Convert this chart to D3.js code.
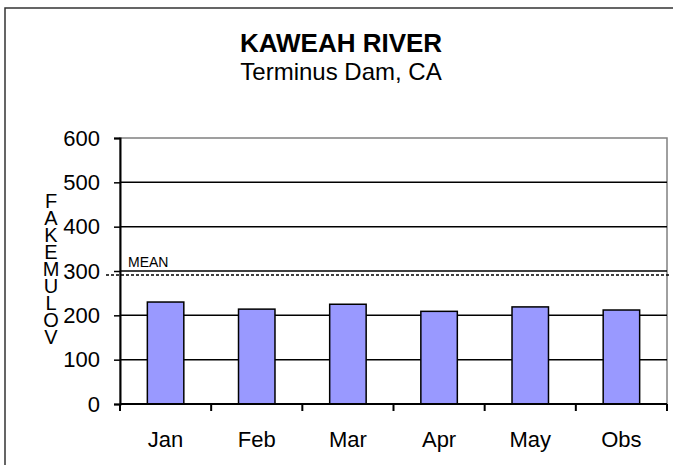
<!DOCTYPE html>
<html>
<head>
<meta charset="utf-8">
<script src="https://cdn.jsdelivr.net/npm/d3@7"></script>
<style>
  html, body { margin: 0; background: #fff; overflow: hidden; }
  svg { display: block; }
  svg text { font-family: "Liberation Sans", Arial, sans-serif; fill: #000; }
</style>
</head>
<body>
<div id="chart"></div>
<script>
// values
var months = ["Jan", "Feb", "Mar", "Apr", "May", "Obs"];
var flows = [230, 214, 225, 209, 219, 212];
var meanFlow = 291;
var yTicks = [0, 100, 200, 300, 400, 500, 600];
var yTitle = "FAKEMULOV";

var width = 673, height = 465;
var margin = {top: 138, right: 6, bottom: 61, left: 120};
var plotW = width - margin.left - margin.right,
    plotH = height - margin.top - margin.bottom;

var svg = d3.select("#chart").append("svg")
    .attr("width", width)
    .attr("height", height);

// outer frame, only top and left edges show in the window
svg.append("path")
    .attr("d", "M5," + height + "V8H" + width)
    .attr("fill", "none")
    .attr("stroke", "#333")
    .attr("stroke-width", 1.5);

svg.append("text")
    .attr("x", 341).attr("y", 52)
    .attr("text-anchor", "middle")
    .style("font-size", "26px")
    .style("font-weight", "bold")
    .text("KAWEAH RIVER");

svg.append("text")
    .attr("x", 341).attr("y", 80)
    .attr("text-anchor", "middle")
    .style("font-size", "24px")
    .text("Terminus Dam, CA");

var g = svg.append("g")
    .attr("transform", "translate(" + margin.left + "," + margin.top + ")");

var xScale = d3.scaleBand()
    .domain(months)
    .range([0, plotW])
    .paddingInner(0.6)
    .paddingOuter(0.3);

var yScale = d3.scaleLinear()
    .domain([0, 600])
    .range([plotH, 0]);

// plot area border
g.append("rect")
    .attr("width", plotW).attr("height", plotH)
    .attr("fill", "none")
    .attr("stroke", "#808080")
    .attr("stroke-width", 1.5);

// gridlines
g.append("g")
    .selectAll("line")
    .data(yTicks.filter(d => d > 0 && d < 600))
    .enter().append("line")
    .attr("x1", 0).attr("x2", plotW)
    .attr("y1", d => yScale(d)).attr("y2", d => yScale(d))
    .attr("stroke", "#000")
    .attr("stroke-width", 1.5);

// bars
g.selectAll(".bar")
    .data(flows)
    .enter().append("rect")
    .attr("class", "bar")
    .attr("x", (d, i) => xScale(months[i]))
    .attr("y", d => yScale(d))
    .attr("width", xScale.bandwidth())
    .attr("height", d => plotH - yScale(d))
    .attr("fill", "#9999ff")
    .attr("stroke", "#000")
    .attr("stroke-width", 1.5);

// y axis
var yAxis = g.append("g")
    .call(d3.axisLeft(yScale).tickValues(yTicks).tickSize(6).tickPadding(14));
yAxis.select(".domain").attr("stroke-width", 2);
yAxis.selectAll(".tick line").attr("stroke-width", 1.5);
yAxis.selectAll(".tick text")
    .style("font-size", "22px")
    .attr("font-family", null);

// x axis, ticks sit between categories
var xAxis = g.append("g")
    .attr("transform", "translate(0," + plotH + ")");
xAxis.append("line")
    .attr("x1", 0).attr("x2", plotW)
    .attr("stroke", "#000")
    .attr("stroke-width", 2);
var step = xScale.step();
xAxis.selectAll(".xtick")
    .data(d3.range(months.length + 1))
    .enter().append("line")
    .attr("class", "xtick")
    .attr("x1", i => i * step).attr("x2", i => i * step)
    .attr("y1", 0).attr("y2", 7)
    .attr("stroke", "#000")
    .attr("stroke-width", 2);
xAxis.selectAll(".xlabel")
    .data(months)
    .enter().append("text")
    .attr("class", "xlabel")
    .attr("x", d => xScale(d) + xScale.bandwidth() / 2)
    .attr("y", 43)
    .attr("text-anchor", "middle")
    .style("font-size", "22px")
    .text(d => d);

// mean line
g.append("line")
    .attr("x1", -14).attr("x2", plotW + 4)
    .attr("y1", yScale(meanFlow)).attr("y2", yScale(meanFlow))
    .attr("stroke", "#000")
    .attr("stroke-width", 1.5)
    .attr("stroke-dasharray", "3,2");

g.append("text")
    .attr("x", 8)
    .attr("y", yScale(meanFlow) - 8)
    .style("font-size", "14px")
    .text("MEAN");

// stacked y title letters
svg.append("g")
    .selectAll("text")
    .data(yTitle.split(""))
    .enter().append("text")
    .attr("x", 51)
    .attr("y", (d, i) => 208 + i * 17)
    .attr("text-anchor", "middle")
    .style("font-size", "20px")
    .text(d => d);
</script>
</body>
</html>
